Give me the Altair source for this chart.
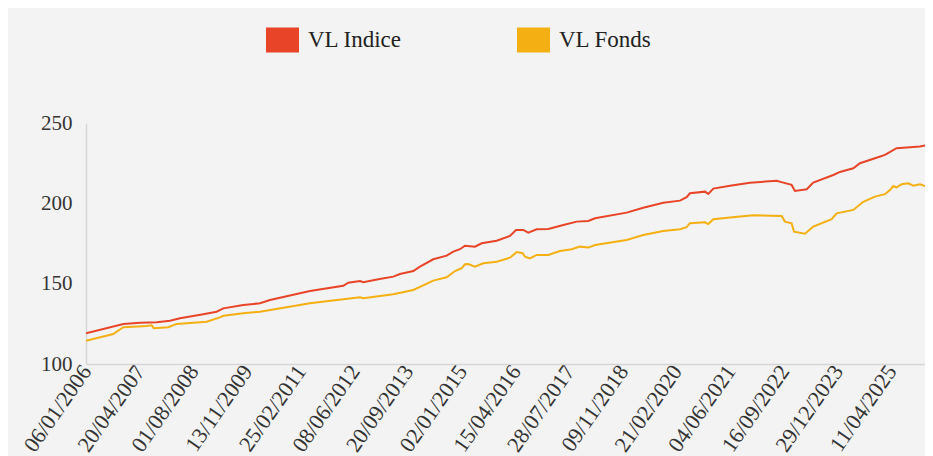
import altair as alt
import pandas as pd

# --- data ---
indice_dates = [
    "2006-01-06", "2006-11-28", "2007-04-22", "2007-09-15", "2008-01-10", "2008-04-06",
    "2008-10-26", "2009-02-20", "2009-04-19", "2009-10-11", "2010-03-06", "2010-06-01",
    "2011-05-16", "2012-03-02", "2012-04-15", "2012-07-26", "2012-08-24", "2013-01-02",
    "2013-05-13", "2013-07-10", "2013-11-04", "2014-01-01", "2014-04-27", "2014-08-22",
    "2014-10-19", "2014-12-16", "2015-01-29", "2015-04-26", "2015-06-24", "2015-11-02",
    "2016-02-26", "2016-04-19", "2016-06-21", "2016-08-04", "2016-10-16", "2017-01-26",
    "2017-06-06", "2017-10-01", "2018-01-10", "2018-03-10", "2018-12-11", "2019-05-05",
    "2019-10-27", "2020-03-21", "2020-05-18", "2020-06-16", "2020-10-25", "2020-11-23",
    "2021-01-06", "2021-06-01", "2021-11-22", "2022-07-13", "2022-09-09", "2022-11-21",
    "2022-12-20", "2023-04-02", "2023-05-29", "2023-11-20", "2024-01-17", "2024-05-13",
    "2024-07-10", "2024-11-18", "2025-02-13", "2025-05-26", "2025-09-20", "2025-12-16",
    "2026-04-08",
]
indice_values = [
    119.2, 125.0, 125.8, 126.0, 127.0, 128.5,
    131.0, 132.6, 134.7, 136.8, 137.9, 139.9,
    145.5, 148.8, 150.7, 151.8, 151.0, 152.8,
    154.5, 156.1, 158.0, 160.7, 165.3, 167.6,
    170.1, 171.6, 173.8, 173.2, 175.3, 176.9,
    179.9, 183.6, 183.6, 181.9, 184.0, 184.2,
    186.7, 188.8, 189.2, 190.9, 194.4, 197.5,
    200.6, 201.9, 204.0, 206.5, 207.5, 206.1,
    209.4, 211.2, 213.1, 214.3, 213.1, 211.7,
    207.9, 209.0, 213.1, 217.9, 219.8, 222.1,
    225.2, 228.3, 230.4, 234.6, 235.2, 235.6,
    237.2,
]

fonds_dates = [
    "2006-01-06", "2006-09-01", "2006-11-28", "2007-06-19", "2007-08-02", "2007-08-22",
    "2007-12-26", "2008-03-08", "2008-11-25", "2009-03-21", "2009-04-19", "2009-10-11",
    "2010-03-06", "2011-05-16", "2012-03-02", "2012-07-26", "2012-08-24", "2013-01-17",
    "2013-05-13", "2013-11-04", "2014-04-27", "2014-08-22", "2014-11-03", "2014-12-31",
    "2015-01-29", "2015-02-27", "2015-04-26", "2015-07-08", "2015-11-02", "2016-02-26",
    "2016-04-25", "2016-06-16", "2016-07-06", "2016-08-19", "2016-10-16", "2017-01-26",
    "2017-05-08", "2017-08-18", "2017-10-29", "2018-01-10", "2018-03-10", "2018-12-11",
    "2019-05-05", "2019-10-27", "2020-03-21", "2020-05-18", "2020-06-16", "2020-10-25",
    "2020-11-23", "2021-01-06", "2021-06-01", "2021-12-21", "2022-08-26", "2022-09-24",
    "2022-11-21", "2022-12-12", "2023-03-18", "2023-05-29", "2023-11-06", "2023-12-19",
    "2024-05-13", "2024-08-08", "2024-11-18", "2025-02-13", "2025-03-29", "2025-04-27",
    "2025-05-26", "2025-07-09", "2025-09-05", "2025-10-19", "2025-12-16", "2026-02-13",
    "2026-04-08",
]
fonds_values = [
    114.5, 118.7, 122.9, 123.7, 124.1, 122.3,
    122.9, 125.0, 126.4, 129.1, 130.1, 131.6,
    132.6, 137.9, 140.4, 141.6, 141.0, 142.4,
    143.5, 146.2, 152.0, 154.1, 158.0, 159.7,
    162.2, 162.4, 160.7, 162.8, 163.8, 166.3,
    169.8, 169.1, 166.9, 165.9, 168.0, 168.0,
    170.5, 171.6, 173.2, 172.6, 174.2, 177.4,
    180.5, 183.0, 184.0, 185.3, 187.8, 188.4,
    187.3, 190.3, 191.3, 192.8, 192.3, 188.8,
    187.8, 182.5, 181.3, 185.7, 190.3, 194.0,
    196.1, 201.2, 204.4, 205.9, 208.5, 211.0,
    210.2, 212.1, 212.7, 211.2, 212.1, 210.6,
    212.7,
]

series_names = ["VL Indice", "VL Fonds"]
series_colors = ["#E74428", "#F4B012"]

tick_dates = [
    (2006, 1, 6), (2007, 4, 20), (2008, 8, 1), (2009, 11, 13), (2011, 2, 25),
    (2012, 6, 8), (2013, 9, 20), (2015, 1, 2), (2016, 4, 15), (2017, 7, 28),
    (2018, 11, 9), (2020, 2, 21), (2021, 6, 4), (2022, 9, 16), (2023, 12, 29),
    (2025, 4, 11),
]
y_ticks = [100, 150, 200, 250]

df = pd.concat([
    pd.DataFrame({"date": indice_dates, "value": indice_values, "serie": series_names[0]}),
    pd.DataFrame({"date": fonds_dates, "value": fonds_values, "serie": series_names[1]}),
])

FONT = "Liberation Serif"

x_enc = alt.X(
    "date:T",
    scale=alt.Scale(
        type="utc",
        domain=[alt.DateTime(year=2006, month=1, date=6, utc=True),
                alt.DateTime(year=2026, month=1, date=29, utc=True)],
    ),
    axis=alt.Axis(
        values=[alt.DateTime(year=y, month=m, date=d, utc=True) for (y, m, d) in tick_dates],
        labelExpr="utcFormat(datum.value, '%d/%m/%Y')",
        labelAngle=-55,
        labelAlign="right",
        labelBaseline="middle",
        labelPadding=3,
        labelFont=FONT,
        labelFontSize=22,
        labelColor="#333333",
        labelOverlap=False,
        labelFlush=False,
        ticks=False,
        grid=False,
        domainColor="#d6d6d6",
        domainWidth=1.5,
        title=None,
    ),
)

y_enc = alt.Y(
    "value:Q",
    scale=alt.Scale(domain=[100, 250], nice=False, zero=False),
    axis=alt.Axis(
        values=y_ticks,
        labelFont=FONT,
        labelFontSize=21,
        labelColor="#333333",
        labelPadding=14,
        ticks=False,
        grid=False,
        domainColor="#d6d6d6",
        domainWidth=1.5,
        title=None,
    ),
)

chart = alt.Chart(df).mark_line(strokeWidth=2, clip=True).encode(
    x=x_enc,
    y=y_enc,
    color=alt.Color(
        "serie:N",
        scale=alt.Scale(domain=series_names, range=series_colors),
        sort=series_names,
        legend=alt.Legend(
            title=None,
            orient="none",
            legendX=180,
            legendY=-100.5,
            direction="horizontal",
            symbolType="M-1,-0.385H1V0.385H-1Z",
            symbolSize=169,
            symbolStrokeWidth=20,
            symbolOpacity=1,
            labelFont=FONT,
            labelFontSize=23,
            labelColor="#222222",
            labelOffset=9,
            columnPadding=85,
            padding=0,
        ),
    ),
).properties(
    width=839,
    height=240.5,
    autosize=alt.AutoSizeParams(type="none"),
    padding={"left": 78, "top": 115.5, "right": 0, "bottom": 92},
    background="#f3f3f3",
).configure_view(stroke=None, fill="#f3f3f3")

chart.save("out.html", embed_options={"renderer": "svg", "actions": False})
